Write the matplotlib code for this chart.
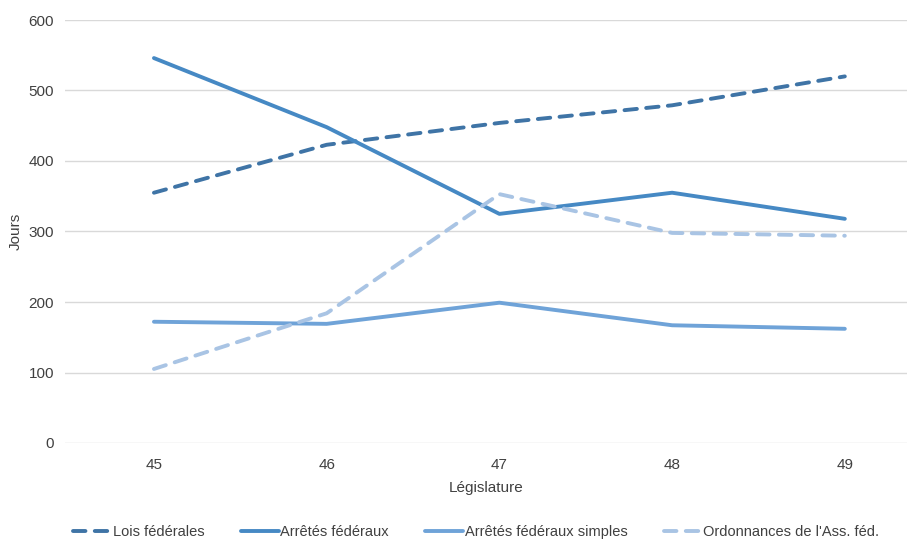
import matplotlib
matplotlib.use("Agg")
import matplotlib.pyplot as plt

legislatures = [45, 46, 47, 48, 49]
lois_federales = [355, 423, 454, 479, 520]
arretes_federaux = [546, 448, 325, 355, 318]
arretes_simples = [172, 169, 199, 167, 162]
ordonnances = [105, 184, 353, 298, 294]
series_names = ["Lois fédérales", "Arrêtés fédéraux", "Arrêtés fédéraux simples", "Ordonnances de l'Ass. féd."]
y_ticks = [0, 100, 200, 300, 400, 500, 600]

plt.rcParams['font.family'] = ['Liberation Sans', 'DejaVu Sans']

fig = plt.figure(figsize=(9.07, 5.41), dpi=100)
ax = fig.add_axes([65/907, 1 - 443/541, (907-65)/907, (443-20)/541])

styles = [
    (lois_federales, "#3F74A6", (0, (3.2, 2.4))),
    (arretes_federaux, "#4689C4", "-"),
    (arretes_simples, "#6FA3D8", "-"),
    (ordonnances, "#A9C4E4", (0, (3.2, 2.4))),
]
for (vals, col, ls), name in zip(styles, series_names):
    ax.plot(legislatures, vals, color=col, lw=2.8, linestyle=ls, label=name,
            solid_capstyle='round', dash_capstyle='round')

ax.set_xlim(44.485, 49.36)
ax.set_ylim(0, 600)
ax.set_yticks(y_ticks)
ax.set_xticks(legislatures)
ax.grid(axis='y', color='#D9D9D9', lw=1)
ax.set_axisbelow(True)
for s in ax.spines.values():
    s.set_visible(False)
ax.tick_params(axis='both', length=0, labelsize=11, colors='#404040')
ax.tick_params(axis='y', pad=8)
ax.tick_params(axis='x', pad=11)
ax.set_ylabel("Jours", fontsize=11, color='#404040', labelpad=4)
ax.set_xlabel("Législature", fontsize=11, color='#404040', labelpad=6)

leg = fig.legend(loc='center', bbox_to_anchor=(0.525, 1 - 532/541), ncol=4, frameon=False,
                 fontsize=10.5, handlelength=2.6, handletextpad=0.1, columnspacing=2.5,
                 labelcolor='#404040')
fig.savefig("out.png", dpi=100)
